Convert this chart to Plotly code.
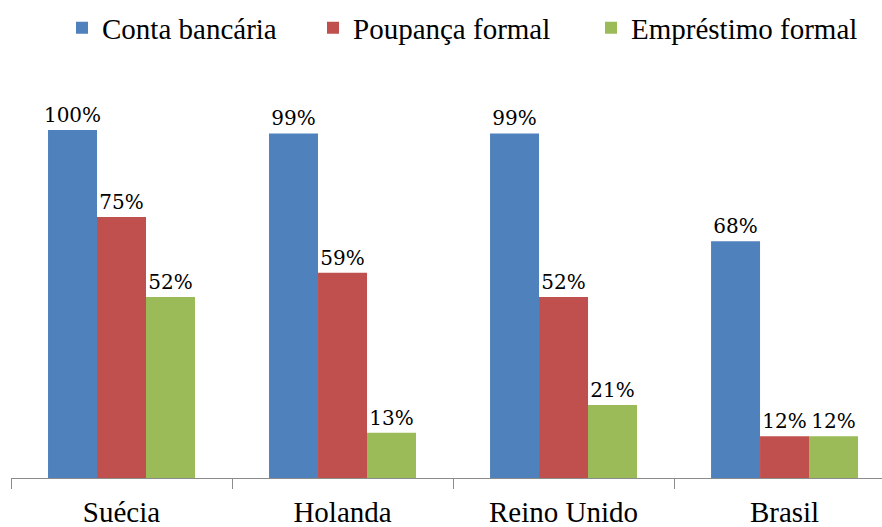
import plotly.graph_objects as go

categories = ["Suécia", "Holanda", "Reino Unido", "Brasil"]
conta = [1.00, 0.99, 0.99, 0.68]
poupanca = [0.75, 0.59, 0.52, 0.12]
emprestimo = [0.52, 0.13, 0.21, 0.12]

series_names = ["Conta bancária", "Poupança formal", "Empréstimo formal"]
colors = ["#4F81BD", "#C0504D", "#9BBB59"]
legend_ids = ["legend", "legend2", "legend3"]

FONT = "Times New Roman"
FONT_LABEL = "DejaVu Serif"
FONT_TICK = "serif"

fig = go.Figure()
for name, vals, col, lg in zip(series_names, [conta, poupanca, emprestimo], colors, legend_ids):
    fig.add_trace(go.Bar(
        x=categories, y=vals, name=name, marker_color=col, marker_line_width=0,
        texttemplate="%{y:.0%}", textposition="outside", constraintext="none",
        textfont=dict(family=FONT_LABEL, size=20, color="black"),
        cliponaxis=False, legend=lg, showlegend=True,
    ))

W, H = 882, 527
ml, mr, mt, mb = 11, 0, 43, 49
pw = W - ml - mr
ph = H - mt - mb

def lx(px):
    return (px - ml) / pw

def ly(py):
    return 1 + (mt - py) / ph

legend_common = dict(orientation="h", yanchor="middle", xanchor="left",
                     font=dict(family=FONT, size=29, color="black"),
                     bgcolor="rgba(0,0,0,0)", itemclick=False)

fig.update_layout(
    width=W, height=H,
    margin=dict(l=ml, r=mr, t=mt, b=mb, autoexpand=False),
    plot_bgcolor="white", paper_bgcolor="white",
    showlegend=True,
    barmode="group", bargap=0.335, bargroupgap=0,
    font=dict(family=FONT, color="black"),
    legend=dict(x=lx(62), y=ly(28), **legend_common),
    legend2=dict(x=lx(313), y=ly(28), **legend_common),
    legend3=dict(x=lx(591), y=ly(28), **legend_common),
    xaxis=dict(range=[-0.5, 3.441], showline=True, linecolor="#8c8c8c", linewidth=1,
               ticks="outside", tickson="boundaries", ticklen=10, tickcolor="#8c8c8c",
               tickfont=dict(family=FONT_TICK, size=29, color="black"),
               ticklabelstandoff=8, showgrid=False, automargin=False),
    yaxis=dict(range=[0, 1.25], visible=False, showgrid=False, automargin=False),
)

post = (
    "document.body.style.margin='0';"
    "var s=document.createElement('style');"
    "s.innerHTML='.modebar-container{display:none !important}';"
    "document.head.appendChild(s);"
)
fig.write_html("out.html", post_script=post)
